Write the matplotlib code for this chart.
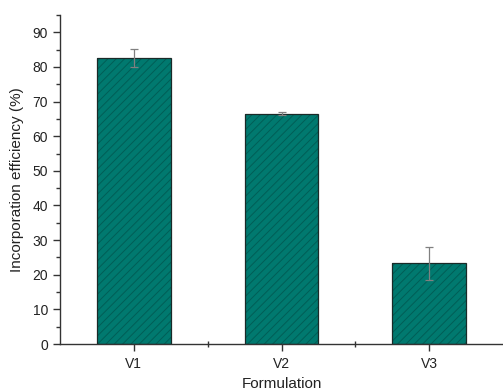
import matplotlib
matplotlib.use("Agg")
import matplotlib.pyplot as plt
from matplotlib.ticker import MultipleLocator, FixedLocator

categories = ["V1", "V2", "V3"]
values = [82.7, 66.5, 23.3]
errors = [2.6, 0.5, 4.8]

plt.rcParams['font.family'] = ['Liberation Sans', 'DejaVu Sans']
plt.rcParams['hatch.linewidth'] = 0.7

fig = plt.figure(figsize=(5.03, 3.92), dpi=100)
ax = fig.add_axes([60/503, 1-344/392, 443/503, (344-15)/392])

x = [1, 2, 3]
ax.bar(x, values, width=0.5, color='#00796f', edgecolor='#005e56', hatch='////', linewidth=0, zorder=2)
ax.bar(x, values, width=0.5, fill=False, edgecolor='#1a2a28', linewidth=0.9, zorder=3)
ax.errorbar(x, values, yerr=errors, fmt='none', ecolor='#808080', elinewidth=0.9, capsize=3, capthick=0.9, zorder=4)

ax.set_xlim(0.5, 3.5)
ax.set_ylim(0, 95)
ax.set_xticks(x)
ax.set_xticklabels(categories)
ax.xaxis.set_minor_locator(FixedLocator([1.5, 2.5]))
ax.yaxis.set_major_locator(MultipleLocator(10))
ax.yaxis.set_minor_locator(MultipleLocator(5))

for s in ['top', 'right']:
    ax.spines[s].set_visible(False)
for s in ['left', 'bottom']:
    ax.spines[s].set_linewidth(1.0)
    ax.spines[s].set_color('#333333')

ax.tick_params(axis='both', which='major', direction='out', length=5, width=1.0, colors='#333333', labelsize=10, labelcolor='#222222')
ax.tick_params(axis='y', which='minor', direction='out', length=3, width=1.0, colors='#333333')
ax.tick_params(axis='x', which='minor', direction='inout', length=5, width=1.0, colors='#333333')
ax.tick_params(axis='x', which='major', pad=4)

ax.set_xlabel('Formulation', fontsize=11, labelpad=5, color='#222222')
ax.set_ylabel('Incorporation efficiency (%)', fontsize=11, labelpad=6, color='#222222')

fig.savefig('out.png', dpi=100)
